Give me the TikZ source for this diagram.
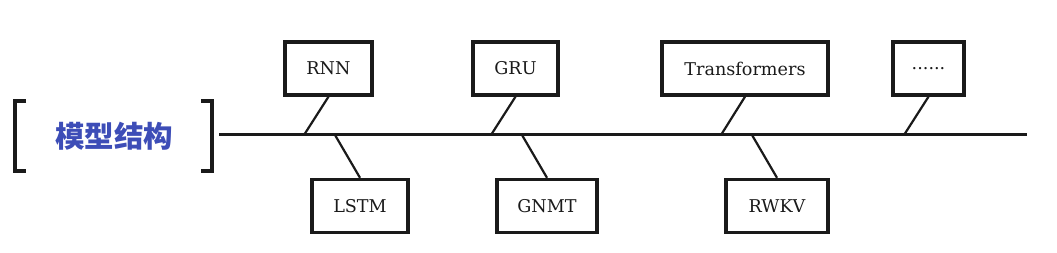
\documentclass[tikz,border=0pt]{standalone}
\usepackage{fontspec}
\setmainfont{DejaVu Serif}
\newfontfamily\cjk{Noto Sans CJK SC}
\definecolor{ink}{HTML}{1A1A1A}
\definecolor{titleblue}{HTML}{3D4DB7}
\begin{document}
\begin{tikzpicture}[x=1pt,y=-1pt,
  box/.style={draw=ink,line width=3.4pt,inner sep=0pt,minimum height=53pt,font=\fontsize{17.6}{20}\selectfont,text=ink},
  conn/.style={draw=ink,line width=2.2pt},
  brk/.style={draw=ink,line width=3.2pt}]
\useasboundingbox (0,0) rectangle (1057,253);
% title and brackets
\node[font=\cjk\bfseries\fontsize{29.5}{33}\selectfont,text=titleblue] (title) at (114,136) {模型结构};
\draw[brk] (26,101) -- (15,101) -- (15,171) -- (26,171);
\draw[brk] (201,101) -- (212,101) -- (212,171) -- (201,171);
% main line
\coordinate (ls) at (219,135);
\coordinate (le) at (1027,135);
\draw[draw=ink,line width=3pt] (ls) -- (le);
% boxes
\node[box,minimum width=87pt] (rnn) at (328.5,68.5) {RNN};
\node[box,minimum width=85pt] (gru) at (515.5,68.5) {GRU};
\node[box,minimum width=166pt] (trf) at (745,68.5) {Transformers};
\node[box,minimum width=71pt] (dots) at (928.5,68.5) {......};
\node[box,minimum width=96pt] (lstm) at (360,206) {LSTM};
\node[box,minimum width=100pt] (gnmt) at (547,206) {GNMT};
\node[box,minimum width=102pt] (rwkv) at (777,206) {RWKV};
% attachment points
\coordinate (p1) at (304,135);
\coordinate (p2) at (491,135);
\coordinate (p3) at (721,135);
\coordinate (p4) at (904,135);
\coordinate (q1) at (335,135);
\coordinate (q2) at (522,135);
\coordinate (q3) at (752,135);
\draw[conn] (rnn.south) -- (p1);
\draw[conn] (gru.south) -- (p2);
\draw[conn] (trf.south) -- (p3);
\draw[conn] (dots.south) -- (p4);
\draw[conn] (q1) -- (lstm.north);
\draw[conn] (q2) -- (gnmt.north);
\draw[conn] (q3) -- (rwkv.north);
\end{tikzpicture}
\end{document}
